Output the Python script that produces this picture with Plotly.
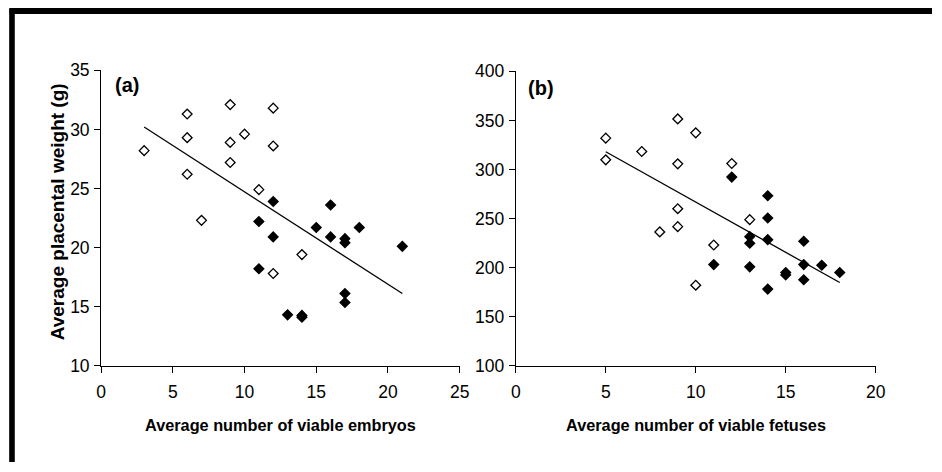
import plotly.graph_objects as go

W, H = 942, 472

# Panel (a)
a_open_x = [3, 6, 6, 6, 7, 9, 9, 9, 10, 12, 12, 11, 14, 12]
a_open_y = [28.2, 31.3, 29.3, 26.2, 22.3, 32.1, 28.9, 27.2, 29.6, 31.8, 28.6, 24.9, 19.4, 17.8]
a_filled_x = [12, 11, 12, 15, 16, 16, 17, 17, 18, 21, 11, 13, 14, 14, 17, 17]
a_filled_y = [23.9, 22.2, 20.9, 21.7, 23.6, 20.9, 20.75, 20.4, 21.7, 20.1, 18.2, 14.3, 14.25, 14.1, 16.1, 15.35]
a_fit_x = [3, 21]
a_fit_y = [30.2, 16.1]

# Panel (b)
b_open_x = [5, 5, 7, 9, 9, 9, 9, 8, 10, 11, 12, 13, 10]
b_open_y = [331.9, 309.8, 318.3, 351.5, 305.7, 260, 241.7, 236.3, 337.3, 223, 306.1, 248.8, 182]
b_filled_x = [12, 14, 14, 14, 13, 13, 16, 11, 13, 14, 15, 15, 16, 16, 17, 18]
b_filled_y = [292.2, 273.2, 250.5, 228.4, 231.5, 224.8, 226.8, 203, 200.7, 178, 194.9, 192.5, 203, 187.5, 202.4, 195]
b_fit_x = [5, 18]
b_fit_y = [318, 184.7]

a_xticks = [0, 5, 10, 15, 20, 25]
a_yticks = [10, 15, 20, 25, 30, 35]
b_xticks = [0, 5, 10, 15, 20]
b_yticks = [100, 150, 200, 250, 300, 350, 400]

FONT = "Liberation Sans, Arial, sans-serif"

# target picture pixel -> page pixel (compensates the photograph's framing)
SX, AX = 0.988, 2.5
SY, AY = 0.96, 8.5

def px(x):
    return ((x - AX) / SX) / W

def py(y):
    return 1 - ((y - AY) / SY) / H

fig = go.Figure()

def add_panel(xa, ya, fx, fy, ox, oy, fdx, fdy):
    fig.add_trace(go.Scatter(x=fx, y=fy, mode="lines", xaxis=xa, yaxis=ya,
                             line=dict(color="black", width=1.3), showlegend=False,
                             hoverinfo="skip"))
    fig.add_trace(go.Scatter(x=ox, y=oy, mode="markers", xaxis=xa, yaxis=ya,
                             marker=dict(symbol="diamond", size=7.5, color="white",
                                         line=dict(color="black", width=1.3)),
                             showlegend=False))
    fig.add_trace(go.Scatter(x=fdx, y=fdy, mode="markers", xaxis=xa, yaxis=ya,
                             marker=dict(symbol="diamond", size=7.5, color="black",
                                         line=dict(color="black", width=1.3)),
                             showlegend=False))

add_panel("x", "y", a_fit_x, a_fit_y, a_open_x, a_open_y, a_filled_x, a_filled_y)
add_panel("x2", "y2", b_fit_x, b_fit_y, b_open_x, b_open_y, b_filled_x, b_filled_y)

axis_common = dict(showline=True, linecolor="black", linewidth=1, ticks="outside",
                   ticklen=6, tickcolor="black", tickwidth=1, showgrid=False,
                   zeroline=False, tickfont=dict(family=FONT, size=17.5, color="black"),
                   fixedrange=True)

fig.update_layout(
    width=W, height=H,
    margin=dict(l=0, r=0, t=0, b=0),
    paper_bgcolor="white", plot_bgcolor="white",
    xaxis=dict(domain=[px(99), px(459)], range=[0, 25], tickvals=a_xticks,
               anchor="y", ticklabelstandoff=4, **axis_common),
    yaxis=dict(domain=[py(365), py(69)], range=[10, 35], tickvals=a_yticks,
               anchor="x", ticklabelstandoff=1, **axis_common),
    xaxis2=dict(domain=[px(515.3), px(876.7)], range=[0, 20], tickvals=b_xticks,
                anchor="y2", ticklabelstandoff=4, **axis_common),
    yaxis2=dict(domain=[py(365), py(70)], range=[100, 400], tickvals=b_yticks,
                anchor="x2", ticklabelstandoff=1, **axis_common),
)

ann = []
ann.append(dict(text="<b>Average placental weight (g)</b>", x=px(56), y=py(211),
                xref="paper", yref="paper", textangle=-90, showarrow=False,
                font=dict(family=FONT, size=19, color="black"),
                xanchor="center", yanchor="middle"))
ann.append(dict(text="<b>Average number of viable embryos</b>", x=px(279), y=py(425),
                xref="paper", yref="paper", showarrow=False,
                font=dict(family=FONT, size=16.3, color="black"),
                xanchor="center", yanchor="middle"))
ann.append(dict(text="<b>Average number of viable fetuses</b>", x=px(696), y=py(425),
                xref="paper", yref="paper", showarrow=False,
                font=dict(family=FONT, size=16.3, color="black"),
                xanchor="center", yanchor="middle"))
ann.append(dict(text="<b>(a)</b>", x=px(125), y=py(84), xref="paper", yref="paper",
                showarrow=False, font=dict(family=FONT, size=20, color="black"),
                xanchor="center", yanchor="middle"))
ann.append(dict(text="<b>(b)</b>", x=px(541), y=py(87), xref="paper", yref="paper",
                showarrow=False, font=dict(family=FONT, size=20, color="black"),
                xanchor="center", yanchor="middle"))
fig.update_layout(annotations=ann)

# thick outer frame: only top and left edges fall inside the picture
fig.add_shape(type="line", xref="paper", yref="paper",
              x0=px(7), x1=1, y0=py(9.5), y1=py(9.5),
              line=dict(color="black", width=5.8), layer="above")
fig.add_shape(type="line", xref="paper", yref="paper",
              x0=px(9.5), x1=px(9.5), y0=0, y1=py(7),
              line=dict(color="black", width=5.6), layer="above")

fig.write_html("out.html", config={"displayModeBar": False},
               post_script="document.body.style.margin='0';document.body.style.overflow='hidden';")
